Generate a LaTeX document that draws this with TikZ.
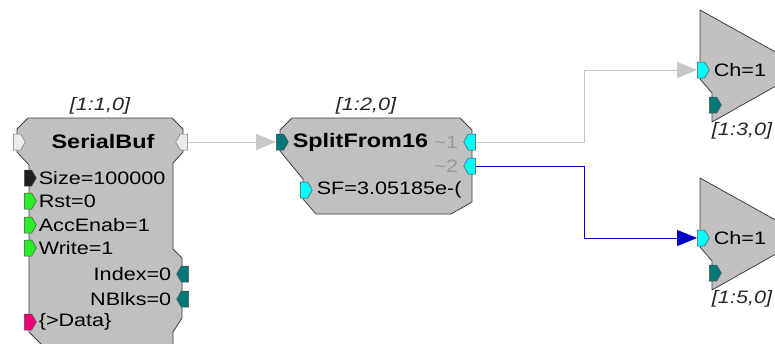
\documentclass[tikz,border=0pt]{standalone}
\usepackage{fontspec}
\setmainfont[FakeStretch=1.2]{Liberation Sans}
\usepackage{tikz}
\usetikzlibrary{arrows.meta, positioning, shapes.symbols}
\definecolor{blockgray}{RGB}{192,192,192}
\definecolor{wiregray}{RGB}{200,200,200}
\definecolor{wireblue}{RGB}{0,0,200}
\definecolor{portteal}{RGB}{0,120,120}
\definecolor{portcyan}{RGB}{0,255,255}
\definecolor{portgreen}{RGB}{40,240,40}
\definecolor{portpink}{RGB}{235,0,120}
\definecolor{portblack}{RGB}{32,32,32}
\definecolor{portwhite}{RGB}{235,235,235}

\begin{document}
\begin{tikzpicture}[
  x=1pt, y=-1pt,
  block/.style={draw=black!75, fill=blockgray, line width=0.8pt, line join=round},
  port/.style={shape=signal, draw=black!70, line width=0.5pt, inner sep=0pt, minimum width=12pt, minimum height=16pt, signal pointer angle=120},
  inport/.style={port, signal to=east},
  outport/.style={port, signal to=west},
  title/.style={font=\fontsize{19.5}{22}\selectfont\bfseries, inner sep=0pt},
  parm/.style={font=\fontsize{18}{20}\selectfont, inner sep=0pt},
  tag/.style={font=\fontsize{18}{20}\selectfont\itshape, text=black!85, inner sep=0pt},
  wire/.style={line width=0.8pt, wiregray, -{Triangle[length=20pt, width=16pt]}}
]
  \useasboundingbox (0,0) rectangle (775,343);
  \clip (0,0) rectangle (775,343);

  \draw[block] (28,118) -- (172,118) -- (183,129) -- (183,152) -- (173,163) -- (173,249) -- (182,258) -- (182,318) -- (173,332) -- (173,360) -- (57,360) -- (29,332) -- (29,165) -- (17,152) -- (17,129) -- cycle;
  \node[tag] (bufid) at (100,106) {[1:1,0]};
  \node[inport, fill=portwhite, draw=black!55] (bufin) at (17,142) {};
  \node[outport, fill=portwhite, draw=black!55] (bufout) at (184,142) {};
  \node[title] (buf) at (103,142) {SerialBuf};
  \node[inport, fill=portblack] (size) at (28,178) {};
  \node[inport, fill=portgreen] (rst) at (28,201) {};
  \node[inport, fill=portgreen] (accenab) at (28,225) {};
  \node[inport, fill=portgreen] (write) at (28,248) {};
  \node[inport, fill=portpink] (data) at (28,322) {};
  \node[outport, fill=portteal] (index) at (185,274) {};
  \node[outport, fill=portteal] (nblks) at (185,299) {};
  \node[parm, right=2pt of size] {Size=100000};
  \node[parm, right=2pt of rst] {Rst=0};
  \node[parm, right=2pt of accenab] {AccEnab=1};
  \node[parm, right=2pt of write] {Write=1};
  \node[parm, right=2pt of data] {\{>Data\}};
  \node[parm, left=5pt of index] {Index=0};
  \node[parm, left=5pt of nblks] {NBlks=0};

  \draw[block] (292,118) -- (460,118) -- (472,130) -- (472,202) -- (451,214) -- (316,214) -- (303,199) -- (303,179) -- (280,151) -- (280,130) -- cycle;
  \node[tag] (splitid) at (366,106) {[1:2,0]};
  \node[inport, fill=portteal] (splitin) at (280,142) {};
  \node[inport, fill=portcyan] (sf) at (304,190) {};
  \node[outport, fill=portcyan] (out1) at (472,142) {};
  \node[outport, fill=portcyan] (out2) at (472,166) {};
  \node[title, right=4pt of splitin] (split) {SplitFrom16};
  \node[parm, right=4pt of sf] {SF=3.05185e-(};
  \node[parm, text=black!40, left=5pt of out1] {\textasciitilde1};
  \node[parm, text=black!40, left=5pt of out2] {\textasciitilde2};

  \draw[block] (700,10) -- (806,69) -- (712,122) -- (712,93) -- (700,79) -- cycle;
  \node[inport, fill=portcyan] (ampin1) at (701,70) {};
  \node[inport, fill=portteal] (ampsub1) at (713,105) {};
  \node[parm, right=4pt of ampin1] {Ch=1};
  \node[tag] (ampid1) at (742,131) {[1:3,0]};

  \draw[block] (700,178) -- (806,237) -- (712,290) -- (712,261) -- (700,247) -- cycle;
  \node[inport, fill=portcyan] (ampin2) at (701,238) {};
  \node[inport, fill=portteal] (ampsub2) at (713,273) {};
  \node[parm, right=4pt of ampin2] {Ch=1};
  \node[tag] (ampid2) at (742,299) {[1:5,0]};

  \draw[wire] (bufout.east) -- (splitin.west);
  \draw[wire] (out1.east) -- ++(108,0) |- (ampin1.west);
  \draw[wire, wireblue] (out2.east) -- ++(108,0) |- (ampin2.west);
\end{tikzpicture}
\end{document}
